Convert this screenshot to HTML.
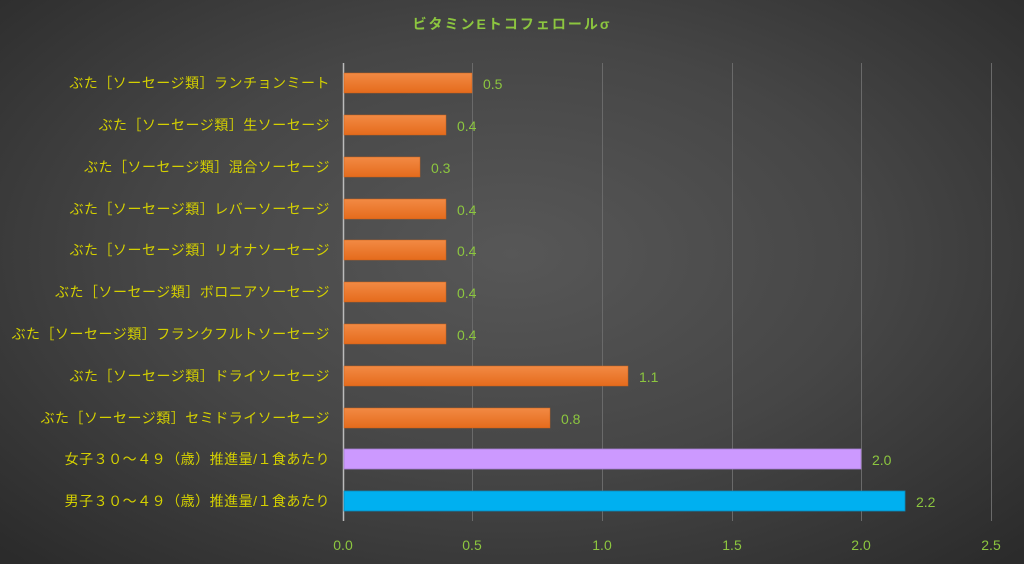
<!DOCTYPE html>
<html><head><meta charset="utf-8"><style>
html,body{margin:0;padding:0;}
body{width:1024px;height:564px;overflow:hidden;background:radial-gradient(ellipse 70% 75% at 50% 45%,#575757 0%,#464646 50%,#2b2b2b 100%);}
svg{display:block;font-family:"Liberation Sans","Noto Sans CJK JP",sans-serif;}
</style></head><body>
<svg width="1024" height="564" viewBox="0 0 1024 564">
<defs>
<linearGradient id="og" x1="0" y1="0" x2="0" y2="1"><stop offset="0" stop-color="#f28a44"/><stop offset="1" stop-color="#e56b1c"/></linearGradient>
</defs>
<text x="512" y="29" text-anchor="middle" font-size="14" font-weight="bold" fill="#8cc63f" letter-spacing="2">ビタミンEトコフェロールσ</text>
<g stroke="#6a6a6a" stroke-width="1">
<line x1="472.5" y1="63" x2="472.5" y2="521"/>
<line x1="602.5" y1="63" x2="602.5" y2="521"/>
<line x1="732.5" y1="63" x2="732.5" y2="521"/>
<line x1="861.5" y1="63" x2="861.5" y2="521"/>
<line x1="991.5" y1="63" x2="991.5" y2="521"/>
</g>
<line x1="343.5" y1="63" x2="343.5" y2="521" stroke="#bbbbbb" stroke-width="1.5"/>
<g font-size="14" fill="#8cc63f" text-anchor="middle">
<text x="343" y="550">0.0</text><text x="472" y="550">0.5</text><text x="602" y="550">1.0</text><text x="732" y="550">1.5</text><text x="861" y="550">2.0</text><text x="991" y="550">2.5</text>
</g>
<g fill="url(#og)" stroke="#c8601a" stroke-width="0.5">
<rect x="344" y="73" width="128" height="20"/>
<rect x="344" y="115" width="102" height="20"/>
<rect x="344" y="157" width="76" height="20"/>
<rect x="344" y="199" width="102" height="20"/>
<rect x="344" y="240" width="102" height="20"/>
<rect x="344" y="282" width="102" height="20"/>
<rect x="344" y="324" width="102" height="20"/>
<rect x="344" y="366" width="284" height="20"/>
<rect x="344" y="408" width="206" height="20"/>
</g>
<rect x="344" y="449" width="517" height="20" fill="#cc99ff" stroke="#a57fd0" stroke-width="0.8"/>
<rect x="344" y="491" width="561" height="20" fill="#00b0f0" stroke="#0a88b8" stroke-width="0.8"/>
<g font-size="14" fill="#8cc63f">
<text x="483" y="89">0.5</text><text x="457" y="131">0.4</text><text x="431" y="173">0.3</text><text x="457" y="215">0.4</text><text x="457" y="256">0.4</text><text x="457" y="298">0.4</text><text x="457" y="340">0.4</text><text x="639" y="382">1.1</text><text x="561" y="424">0.8</text><text x="872" y="465">2.0</text><text x="916" y="507">2.2</text>
</g>
<g font-size="14" fill="#d4d000" text-anchor="end" letter-spacing="0.5">
<text x="330" y="88">ぶた［ソーセージ類］ランチョンミート</text>
<text x="330" y="130">ぶた［ソーセージ類］生ソーセージ</text>
<text x="330" y="172">ぶた［ソーセージ類］混合ソーセージ</text>
<text x="330" y="214">ぶた［ソーセージ類］レバーソーセージ</text>
<text x="330" y="255">ぶた［ソーセージ類］リオナソーセージ</text>
<text x="330" y="297">ぶた［ソーセージ類］ボロニアソーセージ</text>
<text x="330" y="339">ぶた［ソーセージ類］フランクフルトソーセージ</text>
<text x="330" y="381">ぶた［ソーセージ類］ドライソーセージ</text>
<text x="330" y="423">ぶた［ソーセージ類］セミドライソーセージ</text>
<text x="330" y="464">女子３０～４９（歳）推進量/１食あたり</text>
<text x="330" y="506">男子３０～４９（歳）推進量/１食あたり</text>
</g>
</svg>
</body></html>
